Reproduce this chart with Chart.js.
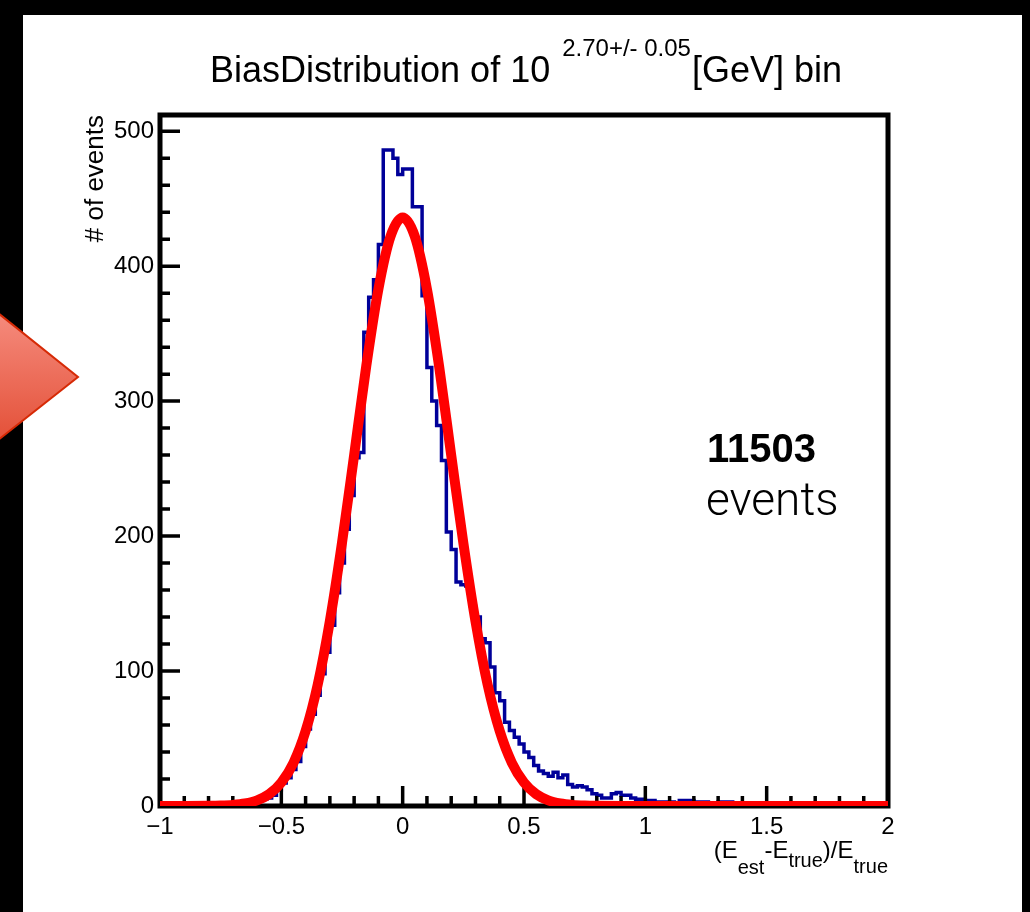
<!DOCTYPE html>
<html>
<head>
<meta charset="utf-8">
<script src="https://cdn.jsdelivr.net/npm/chart.js@4.4.0/dist/chart.umd.min.js"></script>
<style>
  html, body { margin: 0; padding: 0; background: #000; }
  #wrap { position: relative; width: 1030px; height: 912px; }
</style>
</head>
<body>
<div id="wrap"><canvas id="bias" width="1030" height="912"></canvas></div>
<script>
// histogram: 150 bins of 0.02 between -1 and 2
const X_MIN = -1;
const X_MAX = 2;
const BIN_WIDTH = 0.02;
const Y_MAX = 512;

const binCounts = [
  0, 0, 0, 0, 0, 0, 1, 0, 0, 1,
  0, 1, 0, 1, 1, 1, 2, 1, 2, 3,
  4, 5, 6, 8, 12, 17, 21, 27, 33, 44,
  57, 68, 82, 98, 114, 134, 158, 180, 205, 230,
  258, 262, 351, 377, 390, 416, 486, 486, 480, 468,
  472, 472, 444, 444, 378, 325, 300, 282, 256, 203,
  190, 166, 164, 163, 148, 140, 124, 121, 103, 84,
  78, 62, 56, 51, 46, 40, 36, 30, 26, 24,
  22, 25, 21, 23, 16, 14, 15, 14, 12, 9,
  8, 6, 6, 9, 10, 8, 8, 6, 5, 5,
  4, 4, 3, 3, 3, 3, 2, 4, 4, 4,
  3, 3, 3, 2, 2, 3, 3, 3, 2, 2,
  2, 2, 1, 1, 1, 0, 1, 1, 0, 1,
  0, 1, 0, 0, 1, 0, 0, 0, 0, 0,
  0, 0, 0, 0, 0, 0, 0, 0, 0, 0
];

// gaussian fit curve
const fitX = [-1, -0.9, -0.8, -0.75, -0.7, -0.65, -0.6, -0.55, -0.5, -0.45, -0.4, -0.35, -0.3, -0.25, -0.2, -0.15, -0.1, -0.05,
  0, 0.05, 0.1, 0.15, 0.2, 0.25, 0.3, 0.35, 0.4, 0.45, 0.5, 0.55, 0.6, 0.65, 0.7, 0.75, 0.8, 0.9, 1, 1.25, 1.5, 1.75, 2];
const fitY = [0, 0, 0.1, 0.3, 0.8, 1.9, 4.2, 8.8, 17.4, 32, 55.5, 90, 137, 195, 260, 326, 383, 422,
  436, 422, 383, 326, 260, 195, 137, 90, 55.5, 32, 17.4, 8.8, 4.2, 1.9, 0.8, 0.3, 0.1, 0, 0, 0, 0, 0, 0];

const xTickValues = [-1, -0.5, 0, 0.5, 1, 1.5, 2];
const xTickLabels = ['\u22121', '\u22120.5', '0', '0.5', '1', '1.5', '2'];
const yTickValues = [0, 100, 200, 300, 400, 500];

const titleParts = ['BiasDistribution of 10', '2.70+/- 0.05', '[GeV] bin'];
// [text, baseline]: subscripts sit at slightly different heights, as in the original
const xTitleParts = [['(E', 858, 0], ['est', 874, 1], ['-E', 858, 0], ['true', 867, 1], [')/E', 858, 0], ['true', 873, 1]];
const yTitle = '# of events';
const eventCount = '11503';
const eventWord = 'events';

const FONT = '"Liberation Sans", Arial, Helvetica, sans-serif';

const histPoints = binCounts.map((c, i) => ({ x: X_MIN + i * BIN_WIDTH, y: c }));
histPoints.push({ x: X_MAX, y: binCounts[binCounts.length - 1] });

const panelPlugin = {
  id: 'panel',
  beforeDraw(chart) {
    const c = chart.ctx;
    c.save();
    c.fillStyle = '#000';
    c.fillRect(0, 0, chart.width, chart.height);
    c.fillStyle = '#fff';
    c.fillRect(23, 15, 999, 897);
    c.restore();
  }
};

// ROOT style frame with inward ticks, drawn over the histogram but under the fit
const framePlugin = {
  id: 'rootFrame',
  afterDatasetDraw(chart, args) {
    if (args.index !== 1) return;
    const { ctx, chartArea: a, scales: { x, y } } = chart;
    ctx.save();
    ctx.strokeStyle = '#000';
    ctx.lineWidth = 3.5;
    ctx.beginPath();
    for (let i = 0; i <= 30; i++) {
      const px = x.getPixelForValue(X_MIN + i * 0.1);
      const len = i % 5 === 0 ? 20 : 10;
      ctx.moveTo(px, a.bottom);
      ctx.lineTo(px, a.bottom - len);
    }
    for (let v = 0; v <= Y_MAX; v += 20) {
      const py = y.getPixelForValue(v);
      const len = v % 100 === 0 ? 20 : 10;
      ctx.moveTo(a.left, py);
      ctx.lineTo(a.left + len, py);
    }
    ctx.stroke();
    ctx.lineWidth = 5;
    ctx.strokeRect(a.left, a.top, a.right - a.left, a.bottom - a.top);
    ctx.restore();
  }
};

const textPlugin = {
  id: 'texts',
  afterDraw(chart) {
    const ctx = chart.ctx;
    const a = chart.chartArea;
    ctx.save();
    ctx.fillStyle = '#000';
    ctx.textBaseline = 'alphabetic';
    ctx.textAlign = 'left';

    // title with superscript
    let tx = 210;
    ctx.font = '36px ' + FONT;
    ctx.fillText(titleParts[0], tx, 82);
    tx += ctx.measureText(titleParts[0]).width + 12;
    ctx.font = '24px ' + FONT;
    ctx.fillText(titleParts[1], tx, 56);
    tx += ctx.measureText(titleParts[1]).width + 1;
    ctx.font = '36px ' + FONT;
    ctx.fillText(titleParts[2], tx, 82);

    // x axis title with subscripts, right aligned to the frame
    const mainF = '24px ' + FONT, subF = '20px ' + FONT;
    let w = 0;
    xTitleParts.forEach(([t, , s]) => { ctx.font = s ? subF : mainF; w += ctx.measureText(t).width; });
    let sx = a.right - w;
    xTitleParts.forEach(([t, b, s]) => {
      ctx.font = s ? subF : mainF;
      ctx.fillText(t, sx, b);
      sx += ctx.measureText(t).width;
    });

    // y axis title
    ctx.save();
    ctx.translate(103, a.top);
    ctx.rotate(-Math.PI / 2);
    ctx.textAlign = 'right';
    ctx.font = '26px ' + FONT;
    ctx.fillText(yTitle, 0, 0);
    ctx.restore();

    // event count note
    ctx.font = 'bold 40px ' + FONT;
    ctx.fillText(eventCount, 707, 462);
    ctx.font = '300 46px Roboto, Lato, ' + FONT;
    ctx.fillText(eventWord, 706, 515);

    // red arrow at the left edge
    const g = ctx.createLinearGradient(0, 315, 0, 437);
    g.addColorStop(0, '#f58a7c');
    g.addColorStop(1, '#e4523a');
    ctx.beginPath();
    ctx.moveTo(-2, 313);
    ctx.lineTo(78, 377);
    ctx.lineTo(-2, 440);
    ctx.closePath();
    ctx.fillStyle = g;
    ctx.fill();
    ctx.strokeStyle = '#d62a06';
    ctx.lineWidth = 2;
    ctx.stroke();
    ctx.restore();
  }
};

const tickFont = { family: FONT, size: 24 };

new Chart(document.getElementById('bias'), {
  type: 'line',
  data: {
    datasets: [
      {
        label: 'fit',
        data: fitX.map((x, i) => ({ x, y: fitY[i] })),
        borderColor: '#ff0000',
        borderWidth: 10,
        pointRadius: 0,
        cubicInterpolationMode: 'monotone',
        fill: false
      },
      {
        label: 'hist',
        data: histPoints,
        borderColor: '#000099',
        borderWidth: 3.5,
        borderJoinStyle: 'miter',
        pointRadius: 0,
        stepped: 'before',
        fill: false
      }
    ]
  },
  options: {
    responsive: false,
    animation: false,
    devicePixelRatio: 1,
    layout: { padding: { top: 115, right: 142, bottom: 0, left: 0 } },
    plugins: {
      legend: { display: false },
      tooltip: { enabled: false },
      title: { display: false }
    },
    scales: {
      x: {
        type: 'linear',
        min: X_MIN,
        max: X_MAX,
        grid: { display: false, drawTicks: false },
        border: { display: false },
        afterFit: s => { s.height = 106; },
        afterBuildTicks: s => { s.ticks = xTickValues.map(v => ({ value: v })); },
        ticks: {
          callback: (v, i) => xTickLabels[i],
          font: tickFont,
          color: '#000',
          padding: 7,
          maxRotation: 0,
          autoSkip: false
        }
      },
      y: {
        type: 'linear',
        min: 0,
        max: Y_MAX,
        grid: { display: false, drawTicks: false },
        border: { display: false },
        afterFit: s => { s.width = 160; },
        afterBuildTicks: s => { s.ticks = yTickValues.map(v => ({ value: v })); },
        ticks: {
          font: tickFont,
          color: '#000',
          padding: 6,
          autoSkip: false
        }
      }
    }
  },
  plugins: [panelPlugin, framePlugin, textPlugin]
});
</script>
</body>
</html>
